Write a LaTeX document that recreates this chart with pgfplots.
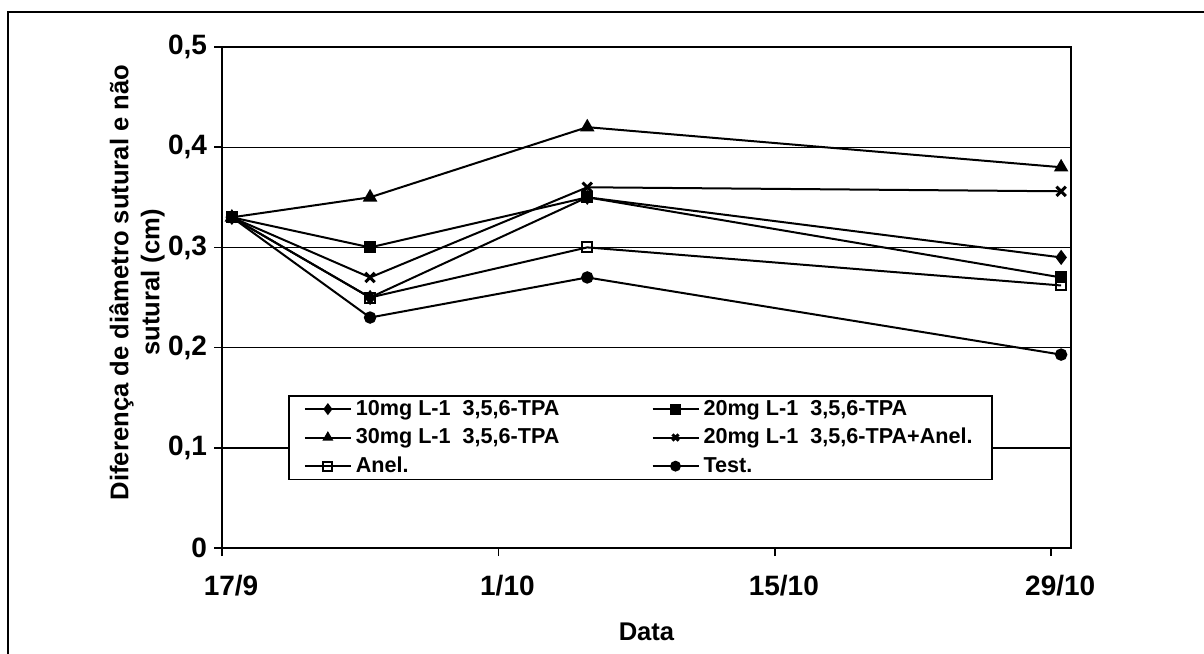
\documentclass[border=0pt]{standalone}
\usepackage{fontspec}
\setmainfont{Liberation Sans}
\usepackage{pgfplots}
\pgfplotsset{compat=1.18}

\begin{document}
\begin{tikzpicture}
\begin{axis}[
    at={(111pt,52.5pt)}, anchor=south west,
    width=424.5pt, height=250.5pt, scale only axis,
    xmin=0, xmax=43,
    ymin=0, ymax=0.5,
    xtick={0,14,28,42},
    xticklabels={17/9,1/10,15/10,29/10},
    ytick={0,0.1,0.2,0.3,0.4,0.5},
    yticklabels={0,{0,1},{0,2},{0,3},{0,4},{0,5}},
    xtick pos=bottom, ytick pos=left,
    ymajorgrids=true,
    grid style={black, line width=0.7pt},
    axis line style={line width=0.9pt},
    tick align=outside,
    major tick length=4pt,
    tick style={black, line width=0.8pt},
    /pgf/number format/assume math mode=true,
    ticklabel style={font=\bfseries\fontsize{14}{16}\selectfont},
    xticklabel style={yshift=-6pt, xshift=4.5pt},
    xlabel={Data},
    ylabel={Diferença de diâmetro sutural e não\\sutural (cm)},
    label style={font=\bfseries\fontsize{12.8}{15.5}\selectfont},
    xlabel style={at={(axis description cs:0.5,-0.168)}, anchor=center},
    ylabel style={at={(axis description cs:-0.1,0.53)}, anchor=center, align=center},
    legend columns=2,
    legend cell align=left,
    legend image code/.code={
      \draw[mark repeat=2, mark phase=2, #1, mark size=2.2pt]
        plot coordinates {(0pt,0pt) (11.5pt,0pt) (23pt,0pt)};
    },
    legend style={
      at={(0.0777,0.305)}, anchor=north west,
      draw=black, line width=0.9pt, fill=white,
      font=\bfseries\fontsize{10.8}{12}\selectfont,
      inner xsep=7.5pt, inner ysep=0pt,
      row sep=1pt,
      /tikz/column 2/.style={column sep=44pt},
    },
    every axis plot/.append style={black, line width=1pt},
]
  \addplot [mark=diamond*, mark size=3pt, mark options={solid}] coordinates {
    (0.5,0.33) (7.5,0.25) (18.5,0.35) (42.5,0.29)
  };
  \addlegendentry{10mg L-1~~3,5,6-TPA}

  \addplot [mark=square*, mark size=2.5pt, mark options={solid}] coordinates {
    (0.5,0.33) (7.5,0.30) (18.5,0.35) (42.5,0.27)
  };
  \addlegendentry{20mg L-1~~3,5,6-TPA}

  \addplot [mark=triangle*, mark size=3.2pt, mark options={solid}] coordinates {
    (0.5,0.33) (7.5,0.35) (18.5,0.42) (42.5,0.38)
  };
  \addlegendentry{30mg L-1~~3,5,6-TPA}

  \addplot [mark=x, mark size=3.3pt, mark options={solid, line width=1.5pt}] coordinates {
    (0.5,0.33) (7.5,0.27) (18.5,0.36) (42.5,0.356)
  };
  \addlegendentry{20mg L-1~~3,5,6-TPA+Anel.}

  \addplot [mark=square, mark size=2.5pt, mark options={solid, fill=white}] coordinates {
    (0.5,0.33) (7.5,0.25) (18.5,0.30) (42.5,0.262)
  };
  \addlegendentry{Anel.}

  \addplot [mark=*, mark size=2.6pt, mark options={solid}] coordinates {
    (0.5,0.33) (7.5,0.23) (18.5,0.27) (42.5,0.193)
  };
  \addlegendentry{Test.}
\end{axis}

% moldura da figura (so a esquerda e o topo aparecem)
\draw[line width=1pt] (4pt,-5pt) -- (4pt,320.5pt) -- (610pt,320.5pt);
\pgfresetboundingbox
\useasboundingbox (0,0) rectangle (602pt,326.5pt);
\end{tikzpicture}
\end{document}
